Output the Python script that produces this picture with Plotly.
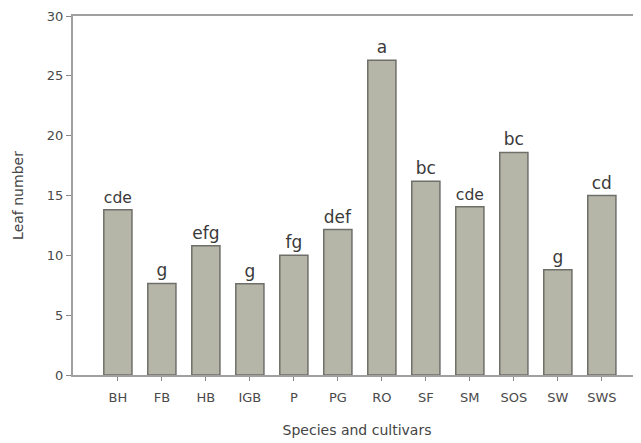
import plotly.graph_objects as go

categories = ["BH", "FB", "HB", "IGB", "P", "PG", "RO", "SF", "SM", "SOS", "SW", "SWS"]
leaf_number = [13.8, 7.65, 10.8, 7.63, 10.0, 12.15, 26.3, 16.2, 14.05, 18.6, 8.8, 15.0]
letters = ["cde", "g", "efg", "g", "fg", "def", "a", "bc", "cde", "bc", "g", "cd"]
y_ticks = [0, 5, 10, 15, 20, 25, 30]

FONT = "DejaVu Sans, Liberation Sans, Arial"

fig = go.Figure()
fig.add_trace(go.Bar(
    x=list(range(len(categories))),
    y=leaf_number,
    text=letters,
    textposition="outside",
    cliponaxis=False,
    textfont=dict(family=FONT, size=17, color="#3a3a3a"),
    width=0.64,
    marker=dict(color="#b6b6a8", line=dict(color="#6f6f6a", width=1.5)),
))

# page body has an 8px margin; figure is sized/offset to compensate
fig.update_layout(
    width=633, height=435,
    margin=dict(l=65, r=0, t=8, b=68),
    paper_bgcolor="white", plot_bgcolor="white",
    showlegend=False,
    font=dict(family=FONT, color="#444444"),
)
fig.update_xaxes(
    range=[-1.02, 11.89],
    tickmode="array",
    tickvals=list(range(len(categories))),
    ticktext=categories,
    showline=True, linecolor="#a0a0a0", linewidth=2, mirror=True,
    ticks="outside", ticklen=4, tickcolor="#888888", tickwidth=1,
    ticklabelstandoff=5,
    tickfont=dict(family=FONT, size=13, color="#4a4a4a"),
    showgrid=False, zeroline=False,
    title=dict(text="Species and cultivars", font=dict(family=FONT, size=14, color="#444444"), standoff=22),
)
fig.update_yaxes(
    range=[0, 30],
    tickmode="array",
    tickvals=y_ticks,
    showline=True, linecolor="#a0a0a0", linewidth=2,
    ticks="outside", ticklen=5, tickcolor="#888888", tickwidth=1,
    tickfont=dict(family=FONT, size=13, color="#4a4a4a"),
    showgrid=False, zeroline=False,
    title=dict(text="Leaf number", font=dict(family=FONT, size=14, color="#444444"), standoff=20),
)

fig.write_html("out.html")
